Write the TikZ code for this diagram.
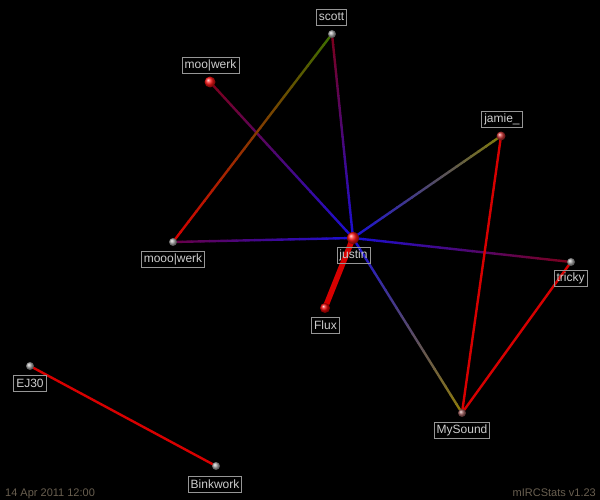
\documentclass[tikz,border=0pt]{standalone}
\usepackage{fontspec}
\setmainfont{Liberation Sans}
\usepackage{tikz}
\usetikzlibrary{calc,shadings}
\definecolor{linkred}{RGB}{215,0,0}
\definecolor{hubblue}{RGB}{25,15,215}
\definecolor{wine}{RGB}{125,0,25}
\definecolor{plum}{RGB}{105,0,70}
\definecolor{olive}{RGB}{130,125,10}
\definecolor{moss}{RGB}{60,110,0}
\definecolor{ballred}{RGB}{255,20,20}
\definecolor{tagline}{RGB}{150,150,150}
\definecolor{tagtext}{RGB}{205,205,205}
\definecolor{stamp}{RGB}{105,95,80}
\tikzset{
  tag/.style={draw=tagline,text=tagtext,line width=0.8pt,inner xsep=2.5pt,inner ysep=0pt,
    minimum height=16pt,font=\fontsize{12}{14}\selectfont},
  bigball/.style={circle,inner sep=0pt,minimum size=12pt,shading=ball,ball color=ballred},
  smallball/.style={circle,inner sep=0pt,minimum size=8pt,shading=ball,ball color=gray!70},
}
% link drawn in short pieces so that its colour fades from one end to the other
\newcommand{\fadelink}[5][2.4pt]{%
  \foreach \k in {0,...,19}{
    \pgfmathsetmacro{\ta}{\k/20}
    \pgfmathsetmacro{\tb}{(\k+1)/20+0.004}
    \pgfmathsetmacro{\mix}{100-(\k+0.5)*5}
    \draw[line width=#1,color=#3!\mix!#5] ($(#2)!\ta!(#4)$) -- ($(#2)!\tb!(#4)$);
  }}

\begin{document}
\begin{tikzpicture}[x=1pt,y=-1pt]
  \fill[black] (0,0) rectangle (600,500);
  \useasboundingbox (0,0) rectangle (600,500);
  \coordinate (justin) at (353,238);
  \coordinate (scott) at (332,34);
  \coordinate (moowerk) at (210,82);
  \coordinate (jamie) at (501,136);
  \coordinate (mooowerk) at (173,242);
  \coordinate (tricky) at (571,262);
  \coordinate (flux) at (325,308);
  \coordinate (ejthirty) at (30,366);
  \coordinate (mysound) at (462,413);
  \coordinate (binkwork) at (216,466);

  \fadelink{moowerk}{wine}{justin}{hubblue}
  \fadelink{scott}{wine}{justin}{hubblue}
  \fadelink{scott}{moss}{mooowerk}{linkred}
  \fadelink{mooowerk}{plum}{justin}{hubblue}
  \fadelink{jamie}{olive}{justin}{hubblue}
  \fadelink{tricky}{wine}{justin}{hubblue}
  \fadelink{mysound}{olive!90!orange}{justin}{hubblue}
  \draw[line width=2.4pt,linkred] (jamie) -- (mysound);
  \draw[line width=2.4pt,linkred] (tricky) -- (mysound);
  \draw[line width=2.4pt,linkred] (ejthirty) -- (binkwork);
  \draw[line width=5.5pt,linkred] (justin) -- (flux);

  \node[bigball] at (justin) {};
  \node[bigball,minimum size=11pt] at (moowerk) {};
  \node[bigball,minimum size=10pt,ball color=red!90!black] at (flux) {};
  \node[smallball,minimum size=9pt,ball color=red!60!gray] at (jamie) {};
  \node[smallball,ball color=red!25!gray] at (mysound) {};
  \foreach \p in {scott,mooowerk,tricky,ejthirty,binkwork}
    \node[smallball] at (\p) {};

  \node[tag] (scottlbl) at (331.5,17) {scott};
  \node[tag] (moowerklbl) at (210.5,65.5) {moo|werk};
  \node[tag] (jamielbl) at (502,119.5) {jamie\_};
  \node[tag] (justinlbl) at (353.5,255) {justin};
  \node[tag] (mooowerklbl) at (173,259) {mooo|werk};
  \node[tag] (trickylbl) at (570.5,278.5) {tricky};
  \node[tag] (fluxlbl) at (325.5,325) {Flux};
  \node[tag] (ejthirtylbl) at (30,383) {EJ30};
  \node[tag] (mysoundlbl) at (462,430.5) {MySound};
  \node[tag] (binkworklbl) at (215,484) {Binkwork};

  \node[stamp,anchor=base west,inner sep=0pt,font=\fontsize{11}{13}\selectfont] (datestamp) at (5,496) {14 Apr 2011 12:00};
  \node[stamp,anchor=base east,inner sep=0pt,font=\fontsize{11}{13}\selectfont] (version) at (596,496) {mIRCStats v1.23};
\end{tikzpicture}
\end{document}
